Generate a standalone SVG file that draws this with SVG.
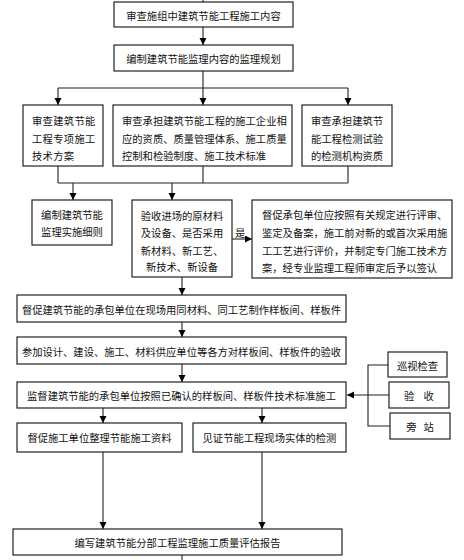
<svg xmlns="http://www.w3.org/2000/svg" width="464" height="560" viewBox="0 0 464 560">
<defs>
<marker id="ah" markerUnits="userSpaceOnUse" markerWidth="8" markerHeight="8" refX="7" refY="3.5" orient="auto">
<path d="M0,0 L7,3.5 L0,7 z" fill="#000"/>
</marker>
<style>
rect{fill:#fff;stroke:#222;stroke-width:1.2}
text{font-family:"Noto Sans CJK SC","Noto Sans",sans-serif;font-size:10.3px;fill:#111}
.c{text-anchor:middle}
#connectors path{fill:none;stroke:#222;stroke-width:1.1}
.a{marker-end:url(#ah)}
</style>
</defs>
<rect x="0" y="0" width="464" height="560" style="fill:#fff;stroke:none"/>
<g id="connectors">
<path d="M203,0 V2"/>
<path class="a" d="M203,27 V45"/>
<path d="M203,71 V88 M58,88 H348"/>
<path class="a" d="M58,88 V105"/>
<path class="a" d="M203,88 V105"/>
<path class="a" d="M348,88 V105"/>
<path d="M58,166 V183 M203,166 V183 M348,166 V183 M58,183 H348"/>
<path class="a" d="M73,183 V200"/>
<path class="a" d="M172,183 V200"/>
<path class="a" d="M232,239 H252"/>
<path class="a" d="M182,277 V295"/>
<path class="a" d="M182,322 V337"/>
<path class="a" d="M182,364 V382"/>
<path d="M388,365 H368 V426 H390"/>
<path class="a" d="M389,395 H347"/>
<path class="a" d="M103,408 V423"/>
<path class="a" d="M262,408 V423"/>
<path class="a" d="M103,452 V529"/>
<path class="a" d="M262,452 V529"/>
<path d="M182,555 V560"/>
</g>
<g id="n1"><rect x="114" y="2" width="179" height="25"/><text class="c" x="203.5" y="15" dominant-baseline="central">审查施组中建筑节能工程施工内容</text></g>
<g id="n2"><rect x="114" y="45" width="179" height="26"/><text class="c" x="203.5" y="58" dominant-baseline="central">编制建筑节能监理内容的监理规划</text></g>
<g id="n3a"><rect x="23" y="105" width="80" height="61"/>
<text x="32" y="120" dominant-baseline="central" letter-spacing="0.3">审查建筑节能</text>
<text x="32" y="138" dominant-baseline="central" letter-spacing="0.3">工程专项施工</text>
<text x="32" y="155" dominant-baseline="central" letter-spacing="0.3">技术方案</text></g>
<g id="n3b"><rect x="113" y="105" width="179" height="61"/>
<text x="122" y="120" dominant-baseline="central">审查承担建筑节能工程的施工企业相</text>
<text x="122" y="138" dominant-baseline="central">应的资质、质量管理体系、施工质量</text>
<text x="122" y="155" dominant-baseline="central">控制和检验制度、施工技术标准</text></g>
<g id="n3c"><rect x="302" y="105" width="90" height="61"/>
<text x="311" y="120" dominant-baseline="central">审查承担建筑节</text>
<text x="311" y="138" dominant-baseline="central">能工程检测试验</text>
<text x="311" y="155" dominant-baseline="central">的检测机构资质</text></g>
<g id="n4a"><rect x="32" y="200" width="80" height="45"/>
<text class="c" x="72" y="214" dominant-baseline="central">编制建筑节能</text>
<text class="c" x="72" y="231" dominant-baseline="central">监理实施细则</text></g>
<g id="n4b"><rect x="132" y="200" width="100" height="77"/>
<text class="c" x="182" y="215" dominant-baseline="central">验收进场的原材料</text>
<text class="c" x="182" y="232" dominant-baseline="central">及设备、是否采用</text>
<text class="c" x="182" y="250" dominant-baseline="central">新材料、新工艺、</text>
<text class="c" x="182" y="266" dominant-baseline="central">新技术、新设备</text></g>
<text x="235" y="232" dominant-baseline="central" font-size="11">是</text>
<g id="n4c"><rect x="252" y="200" width="200" height="78"/>
<text x="262" y="214" dominant-baseline="central" font-size="10">督促承包单位应按照有关规定进行评审、</text>
<text x="262" y="232" dominant-baseline="central" font-size="10">鉴定及备案，施工前对新的或首次采用施</text>
<text x="262" y="250" dominant-baseline="central" font-size="10">工工艺进行评价，并制定专门施工技术方</text>
<text x="262" y="267" dominant-baseline="central" font-size="10">案，经专业监理工程师审定后予以签认</text></g>
<g id="n5"><rect x="17" y="295" width="329" height="27"/><text class="c" x="181.5" y="309" dominant-baseline="central">督促建筑节能的承包单位在现场用同材料、同工艺制作样板间、样板件</text></g>
<g id="n6"><rect x="17" y="337" width="329" height="27"/><text class="c" x="181.5" y="351" dominant-baseline="central">参加设计、建设、施工、材料供应单位等各方对样板间、样板件的验收</text></g>
<g id="n7"><rect x="17" y="382" width="329" height="26"/><text class="c" x="181.5" y="395" dominant-baseline="central">监督建筑节能的承包单位按照已确认的样板间、样板件技术标准施工</text></g>
<g id="r1"><rect x="388" y="352" width="59" height="25"/><text class="c" x="417.5" y="365" dominant-baseline="central">巡视检查</text></g>
<g id="r2"><rect x="389" y="382" width="60" height="26"/><text class="c" x="419" y="395" dominant-baseline="central" xml:space="preserve">验    收</text></g>
<g id="r3"><rect x="390" y="413" width="60" height="26"/><text class="c" x="420" y="426" dominant-baseline="central" xml:space="preserve">旁   站</text></g>
<g id="n8a"><rect x="17" y="423" width="165" height="29"/><text class="c" x="99.5" y="437.5" dominant-baseline="central">督促施工单位整理节能施工资料</text></g>
<g id="n8b"><rect x="193" y="423" width="153" height="29"/><text class="c" x="269.5" y="437.5" dominant-baseline="central">见证节能工程现场实体的检测</text></g>
<g id="n9"><rect x="13" y="529" width="329" height="26"/><text class="c" x="177.5" y="542" dominant-baseline="central">编写建筑节能分部工程监理施工质量评估报告</text></g>
</svg>
